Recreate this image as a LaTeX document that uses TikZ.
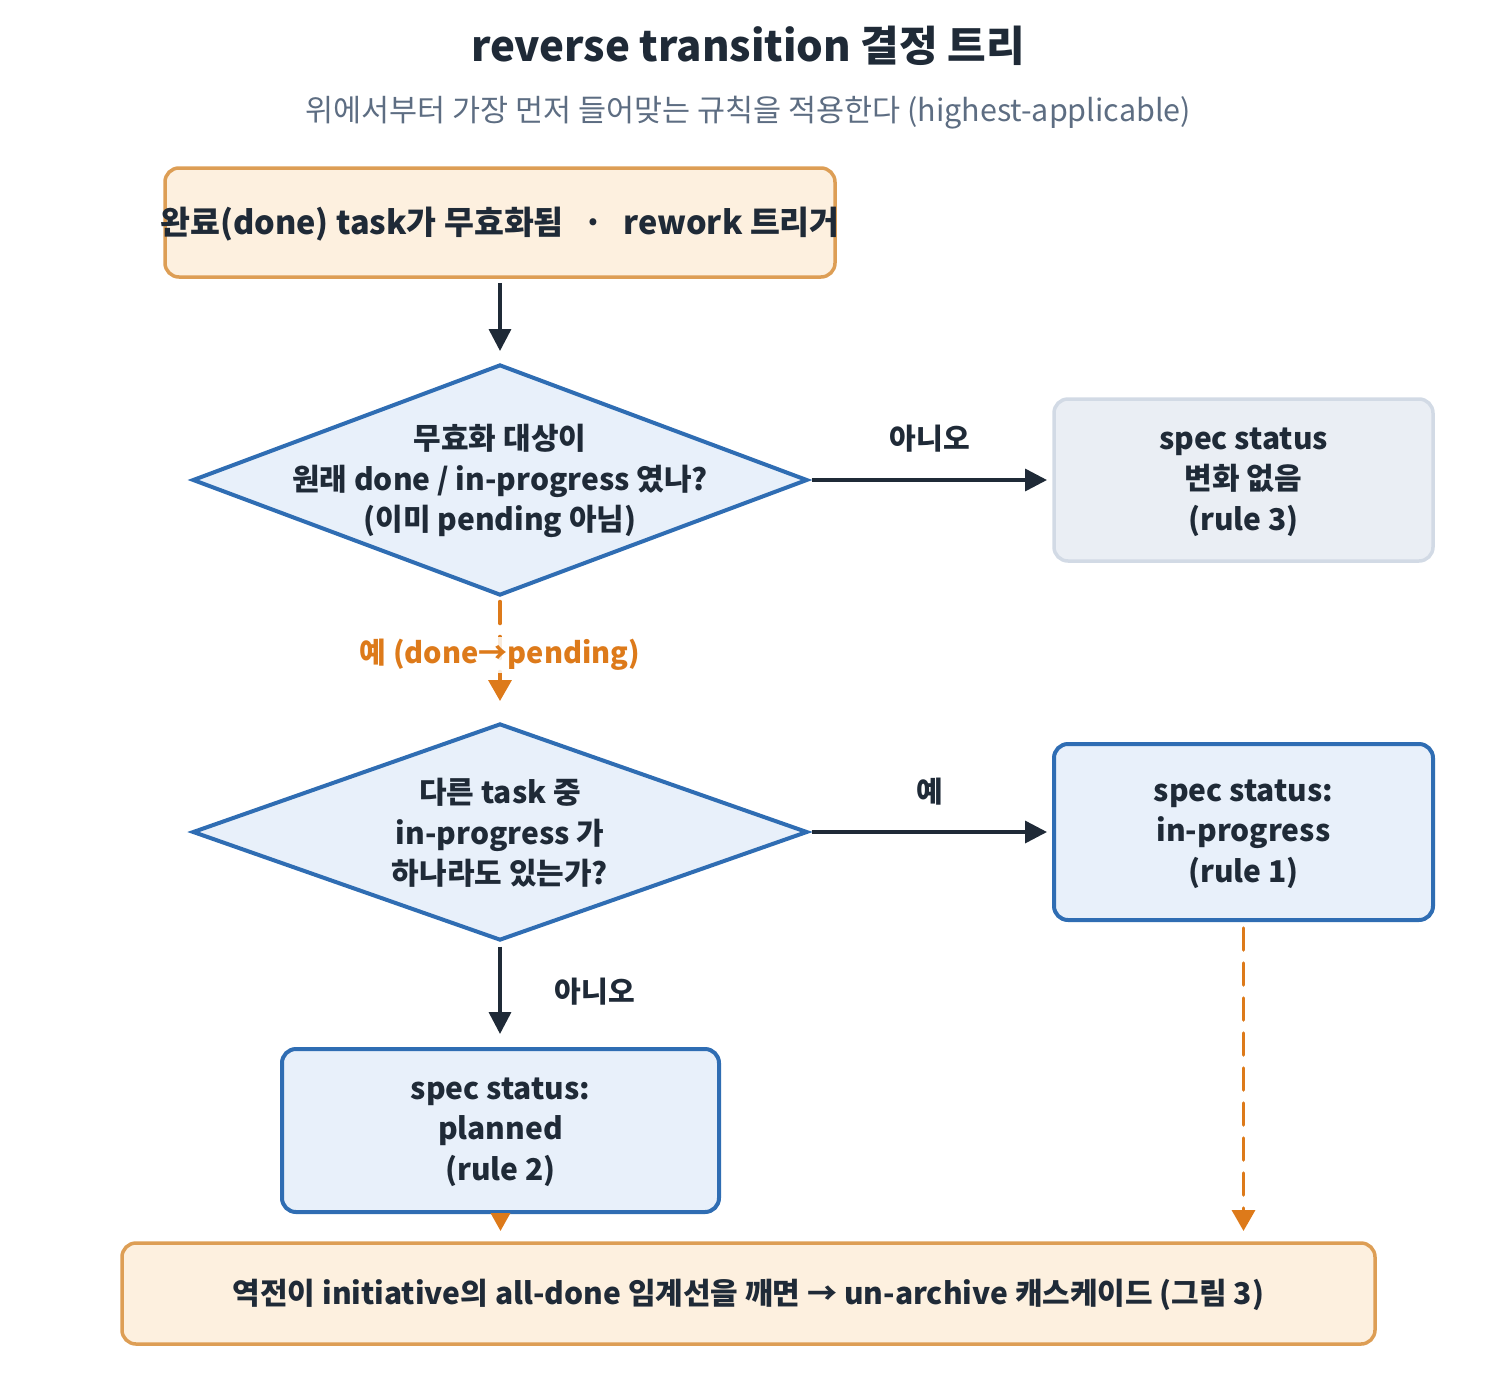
\documentclass[tikz,border=0pt]{standalone}
\usepackage{fontspec}
\setmainfont{Noto Sans CJK KR}
\usetikzlibrary{arrows.meta,shapes.geometric}
\definecolor{ink}{RGB}{31,42,55}
\definecolor{blueline}{RGB}{47,109,179}
\definecolor{bluefill}{RGB}{232,240,250}
\definecolor{tanline}{RGB}{221,158,85}
\definecolor{tanfill}{RGB}{253,240,223}
\definecolor{grayfill}{RGB}{234,238,244}
\definecolor{grayline}{RGB}{210,218,229}
\definecolor{orng}{RGB}{221,122,26}
\definecolor{subgray}{RGB}{93,109,130}
\tikzset{
  nodetext/.style={font=\fontsize{30}{40.5}\selectfont\bfseries, text=ink, align=center},
  boxbase/.style={rounded corners=14pt, line width=3.5pt, inner sep=0pt, nodetext},
  tanbox/.style={boxbase, draw=tanline, fill=tanfill},
  bluebox/.style={boxbase, draw=blueline, fill=bluefill, line width=4pt},
  graybox/.style={boxbase, draw=grayline, fill=grayfill},
  decision/.style={diamond, draw=blueline, fill=bluefill, line width=4pt, inner sep=0pt,
    minimum width=615pt, minimum height=231pt},
  flow/.style={draw=ink, line width=3.5pt, -{Triangle[length=22pt,width=22pt]}},
  oflow/.style={draw=orng, line width=3.5pt, line cap=round, dash pattern=on 22pt off 13pt,
    -{Triangle[length=21pt,width=23pt,line cap=butt]}},
  elabel/.style={font=\fontsize{29}{34}\selectfont\bfseries, text=ink}
}
\begin{document}
\begin{tikzpicture}[x=1pt,y=-1pt]
\useasboundingbox (0,0) rectangle (1497,1395);
% titles
\node[font=\fontsize{42}{50}\selectfont\bfseries, text=ink] (title) at (748,46) {reverse transition 결정 트리};
\node[font=\fontsize{30.5}{36}\selectfont, text=subgray] (subtitle) at (748,113) {위에서부터 가장 먼저 들어맞는 규칙을 적용한다 (highest-applicable)};
% nodes
\node[tanbox, minimum width=670pt, minimum height=109pt] (start) at (500,222.5) {};
\node[nodetext, font=\fontsize{32.5}{40}\selectfont\bfseries] (startt) at (500,224)
  {\makebox[0pt]{완료(done) task가 무효화됨\hspace{20pt}·\hspace{20pt}rework 트리거}};
\node[decision] (d1) at (500,480) {};
\node[nodetext] (d1t) at (500,481) {무효화 대상이\\원래 done / in-progress 였나?\\(이미 pending 아님)};
\node[graybox, minimum width=379pt, minimum height=162pt] (r3) at (1243.5,480) {};
\node[nodetext] (r3t) at (1243.5,482) {spec status\\변화 없음\\(rule 3)};
\node[decision, minimum height=217pt] (d2) at (500,832) {};
\node[nodetext] (d2t) at (500,833) {다른 task 중\\in-progress 가\\하나라도 있는가?};
\node[bluebox, minimum width=379pt, minimum height=176pt] (r1) at (1243.5,832) {};
\node[nodetext] (r1t) at (1243.5,834) {spec status:\\in-progress\\(rule 1)};
\node[bluebox, minimum width=437pt, minimum height=163pt] (r2) at (500.5,1130.5) {};
\node[nodetext] (r2t) at (500.5,1132) {spec status:\\planned\\(rule 2)};
\node[tanbox, minimum width=1253pt, minimum height=101pt] (cascade) at (748.5,1293.5) {};
\node[nodetext] (cascadet) at (748.5,1294.5)
  {역전이 initiative의 all-done 임계선을 깨면 → un-archive 캐스케이드 (그림 3)};
% connectors
\coordinate (startend) at (500,351);
\draw[flow] ([yshift=-4pt]start.south) -- (startend);
\coordinate (r3in) at (1047,480);
\draw[flow] ([xshift=2pt]d1.east) -- (r3in);
\node[elabel] (lno1) at (930,439) {아니오};
\coordinate (d2in) at (500,701);
\draw[oflow] ([yshift=-4pt]d1.south) -- (d2in);
\node[font=\fontsize{29}{34}\selectfont\bfseries, text=orng, fill=white, fill opacity=0.85, text opacity=1, inner sep=2pt] (lyes1) at (500,655) {예 (done→pending)};
\coordinate (r1in) at (1047,832);
\draw[flow] ([xshift=2pt]d2.east) -- (r1in);
\node[elabel] (lyes2) at (930,792) {예};
\coordinate (r2in) at (500,1034);
\draw[flow] ([yshift=-4pt]d2.south) -- (r2in);
\node[elabel] (lno2) at (595,992) {아니오};
\coordinate (c1) at (1243.5,1231);
\draw[oflow] ([yshift=-6pt]r1.south) -- (c1);
\coordinate (c2) at (500.5,1231);
\draw[draw=orng, line width=3.5pt, -{Triangle[length=18pt,width=19pt]}] ([yshift=-2pt]r2.south) -- (c2);
\end{tikzpicture}
\end{document}
